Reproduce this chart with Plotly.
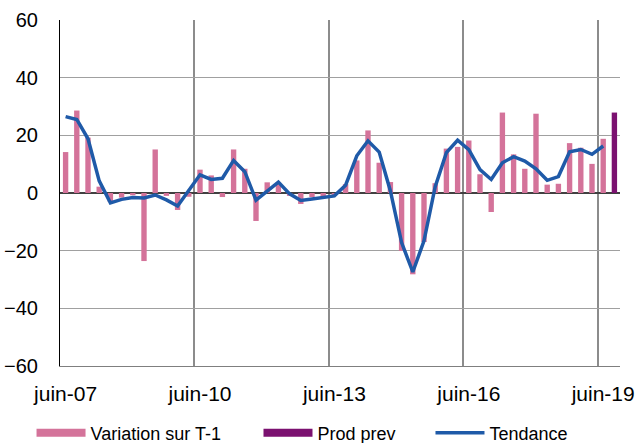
import plotly.graph_objects as go

categories = list(range(50))
tick_labels = ["juin-07", "juin-10", "juin-13", "juin-16", "juin-19"]
tick_positions = [0, 12, 24, 36, 48]

variation = [14.2, 28.6, 19.2, 2.2, -3.1, -1.6, -0.8, -23.6, 15.1, -1.0,
             -5.9, -1.3, 8.1, 6.1, -1.4, 15.1, 8.4, -9.7, 3.7, 3.7,
             -1.0, -3.8, -1.4, -1.6, -0.5, 3.1, 11.3, 21.7, 10.5, 3.8,
             -20.1, -28.2, -17.0, 3.4, 15.4, 16.0, 18.2, 6.5, -6.6, 27.9,
             13.4, 8.4, 27.5, 2.9, 3.2, 17.3, 15.7, 10.1, 18.8]
prod_prev = [27.9]
tendance = [26.5, 25.5, 18.8, 4.2, -3.4, -2.2, -1.6, -1.7, -0.7, -2.4,
            -4.5, 0.8, 6.3, 4.7, 5.1, 11.3, 7.4, -2.5, 0.5, 3.8,
            -0.3, -2.6, -2.1, -1.7, -1.0, 2.7, 12.9, 18.1, 14.2, 0.7,
            -17.2, -27.4, -16.6, 2.2, 14.0, 18.3, 15.0, 8.1, 4.7, 10.5,
            12.6, 11.1, 8.4, 4.4, 5.7, 14.3, 15.1, 13.4, 16.3]

PINK = "#D4739A"
PURPLE = "#7B1170"
BLUE = "#1F5AA8"
FONT = "Liberation Sans, Arial, sans-serif"

fig = go.Figure()
fig.add_trace(go.Bar(x=categories[:len(variation)], y=variation, marker_color=PINK,
                     marker_line_width=0, width=0.48, showlegend=False))
fig.add_trace(go.Bar(x=categories[len(variation):len(variation) + len(prod_prev)], y=prod_prev,
                     marker_color=PURPLE, marker_line_width=0, width=0.48, showlegend=False))
fig.add_trace(go.Scatter(x=categories[:len(tendance)], y=tendance, mode="lines",
                         line=dict(color=BLUE, width=3.5), showlegend=False))

# legend proxies, one legend each for precise placement
fig.add_trace(go.Scatter(x=[None], y=[None], mode="lines", name="Variation sur T-1",
                         line=dict(color=PINK, width=8), legend="legend"))
fig.add_trace(go.Scatter(x=[None], y=[None], mode="lines", name="Prod prev",
                         line=dict(color=PURPLE, width=8), legend="legend2"))
fig.add_trace(go.Scatter(x=[None], y=[None], mode="lines", name="Tendance",
                         line=dict(color=BLUE, width=3.5), legend="legend3"))

leg_common = dict(orientation="h", xanchor="left", xref="container", yref="container",
                  y=0.0226, yanchor="middle",
                  font=dict(size=18, family=FONT, color="black"), itemwidth=49,
                  bgcolor="rgba(0,0,0,0)")

fig.update_layout(
    width=637, height=443,
    margin=dict(l=60, r=17, t=20, b=77, autoexpand=False),
    paper_bgcolor="white", plot_bgcolor="white",
    font=dict(family=FONT, size=20, color="black"),
    barmode="overlay",
    legend=dict(x=0.0495, **leg_common),
    legend2=dict(x=0.4058, **leg_common),
    legend3=dict(x=0.6758, **leg_common),
    xaxis=dict(range=[-0.5, 49.5], tickmode="array", tickvals=tick_positions,
               ticktext=tick_labels, showgrid=False, zeroline=False, automargin=False,
               tickfont=dict(size=21),
               showline=True, linecolor="#7f7f7f", linewidth=1, mirror=False,
               ticks="", ticklabelstandoff=9,
               minor=dict(tickmode="linear", tick0=-0.5, dtick=12, showgrid=True,
                          gridcolor="#8c8c8c", gridwidth=2, ticks="")),
    yaxis=dict(range=[-60, 60], tickmode="linear", tick0=-60, dtick=20,
               showgrid=True, gridcolor="#a0a0a0", gridwidth=1, automargin=False,
               zeroline=True, zerolinecolor="#404040", zerolinewidth=1.5,
               showline=True, linecolor="black", linewidth=1,
               ticks="", ticklabelstandoff=17),
)

fig.write_html("out.html", config={"displayModeBar": False},
               post_script="document.body.style.margin='0';document.body.style.overflow='hidden';")
